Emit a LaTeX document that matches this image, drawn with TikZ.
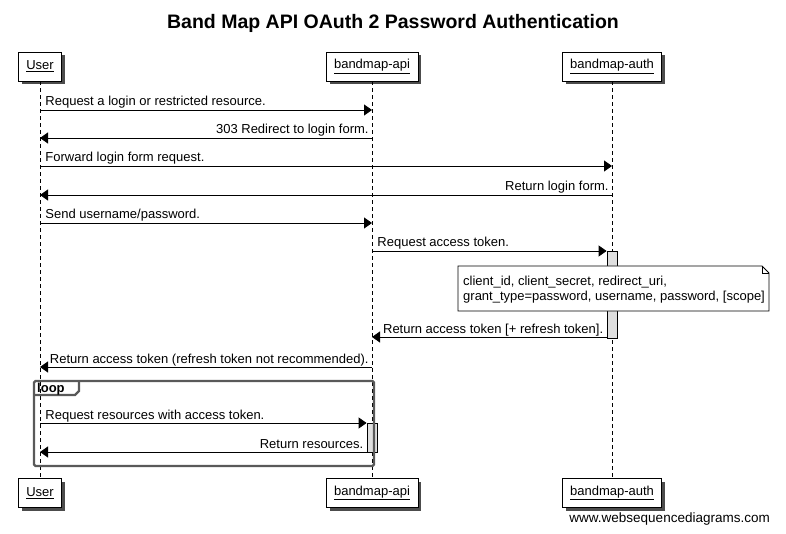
\documentclass[tikz,border=0pt]{standalone}
\usepackage{fontspec}
\setmainfont{Liberation Sans}
\usetikzlibrary{arrows.meta,shadows}
\begin{document}
\begin{tikzpicture}[x=1pt,y=-1pt,font=\fontsize{13}{15}\selectfont,
  part/.style={draw,fill=white,line width=.9pt,minimum height=29pt,inner xsep=8pt,
    drop shadow={shadow xshift=3.5pt,shadow yshift=-3.5pt,fill=black!70,opacity=1}},
  life/.style={line width=.9pt,dash pattern=on 4pt off 3pt},
  msg/.style={line width=.9pt,-{Triangle[length=8pt,width=11pt]}},
  ltxt/.style={pos=0,anchor=base west,inner sep=0pt,xshift=5pt,yshift=4pt},
  rtxt/.style={pos=0,anchor=base east,inner sep=0pt,xshift=-3pt,yshift=4pt},
  act/.style={draw,fill=gray!25,line width=.8pt,minimum width=10pt,inner sep=0pt},
  ntxt/.style={anchor=base west,inner sep=0pt},
  loopfr/.style={draw=black!65,line width=2.4pt,rounded corners=1.5pt}]
\useasboundingbox(0,0)rectangle(786,534);
\node[font=\fontsize{19.5}{22}\selectfont\bfseries,anchor=base](title)at(393,29){Band Map API OAuth 2 Password Authentication};
\node[part](userT)at(40,66.5){\underline{User}};
\node[part](apiT)at(372,66.5){\underline{bandmap-api}};
\node[part](authT)at(612,66.5){\underline{bandmap-auth}};
\node[part](userB)at(40,493){\underline{User}};
\node[part](apiB)at(372,493){\underline{bandmap-api}};
\node[part](authB)at(612,493){\underline{bandmap-auth}};
\draw[life](userT)--(userB);\draw[life](apiT)--(apiB);\draw[life](authT)--(authB);
\foreach \n/\y in {1/110,2/138,3/166,4/195,5/223,6/251,7/337,8/367,9/423,10/452}
  \coordinate(r\n)at(0,\y);
\node[act,minimum height=87pt](actA)at(612,294.5){};
\node[act,minimum height=29pt](actB)at(372,437.5){};
\draw[line width=.9pt,fill=white](458,266)--(762,266)--(769,273)--(769,311)--(458,311)--cycle;
\draw[line width=.9pt](762,266)--(762,273)--(769,273);
\node[ntxt](note1)at(463,285){client\_id, client\_secret, redirect\_uri,};
\node[ntxt](note2)at(463,300){grant\_type=password, username, password, [scope]};
\draw[msg](userT|-r1)--node[ltxt](m1){Request a login or restricted resource.}(apiT|-r1);
\draw[msg](apiT|-r2)--node[rtxt](m2){303 Redirect to login form.}(userT|-r2);
\draw[msg](userT|-r3)--node[ltxt](m3){Forward login form request.}(authT|-r3);
\draw[msg](authT|-r4)--node[rtxt](m4){Return login form.}(userT|-r4);
\draw[msg](userT|-r5)--node[ltxt](m5){Send username/password.}(apiT|-r5);
\draw[msg](apiT|-r6)--node[ltxt](m6){Request access token.}(actA.west|-r6);
\draw[msg](actA.west|-r7)--node[rtxt](m7){Return access token [+ refresh token].}(apiT|-r7);
\draw[msg](apiT|-r8)--node[rtxt](m8){Return access token (refresh token not recommended).}(userT|-r8);
\draw[loopfr](34,381)rectangle(374,466);
\draw[loopfr,rounded corners=0pt](34,395)--(75,395)--(79,391)--(79,381);
\node[anchor=base west,inner sep=0pt,font=\fontsize{13}{15}\selectfont\bfseries](lp)at(37,392){loop};
\draw[msg](userT|-r9)--node[ltxt](m9){Request resources with access token.}(actB.west|-r9);
\draw[msg](actB.west|-r10)--node[rtxt](m10){Return resources.}(userT|-r10);
\node[anchor=base east,inner sep=0pt,font=\fontsize{13.5}{15}\selectfont](wsd)at(770,522){www.websequencediagrams.com};
\end{tikzpicture}
\end{document}
